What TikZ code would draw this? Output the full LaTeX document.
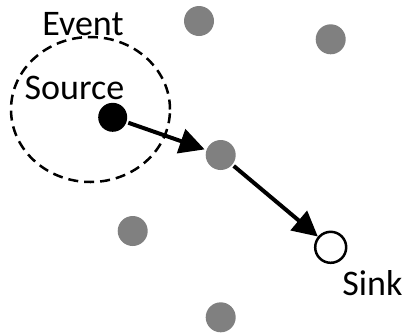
\documentclass[tikz,border=0pt]{standalone}
\usepackage{fontspec}
\setmainfont{Carlito}
\usetikzlibrary{positioning,arrows.meta,shapes.geometric}

\begin{document}
\begin{tikzpicture}[
  x=1pt,y=-1pt,
  line width=4pt,
  every node/.style={font=\fontsize{36}{42}\selectfont,inner sep=0pt},
  relay/.style={circle,fill=gray,minimum size=30pt},
  hop/.style={-{Triangle[length=25pt,width=25pt]}}
]
\useasboundingbox (0,0) rectangle (406,335);
% event region
\node[ellipse,draw,dashed,line width=2.5pt,dash pattern=on 10pt off 6pt,
  minimum width=159pt,minimum height=145pt] (event) at (90.5,109.5) {};
\node[anchor=base] (eventlbl) at (83,35) {Event};
\node[anchor=base] (srclbl) at (74.5,99) {Source};
% sensor nodes
\node[circle,fill=black,minimum size=29pt] (src) at (112.7,117.3) {};
\node[relay] (r1) at (199,21) {};
\node[relay] (r2) at (330.7,39.3) {};
\node[relay] (mid) at (220.7,155) {};
\node[relay] (r3) at (132.7,231) {};
\node[relay] (r4) at (220.7,317.3) {};
\node[circle,draw,fill=white,line width=2.5pt,minimum size=31pt] (sink) at (330.7,247.3) {};
\node[anchor=base] (sinklbl) at (372.5,295) {Sink};
% route
\draw[hop] (src) -- (mid);
\draw[hop] (mid) -- (sink);
\end{tikzpicture}
\end{document}
